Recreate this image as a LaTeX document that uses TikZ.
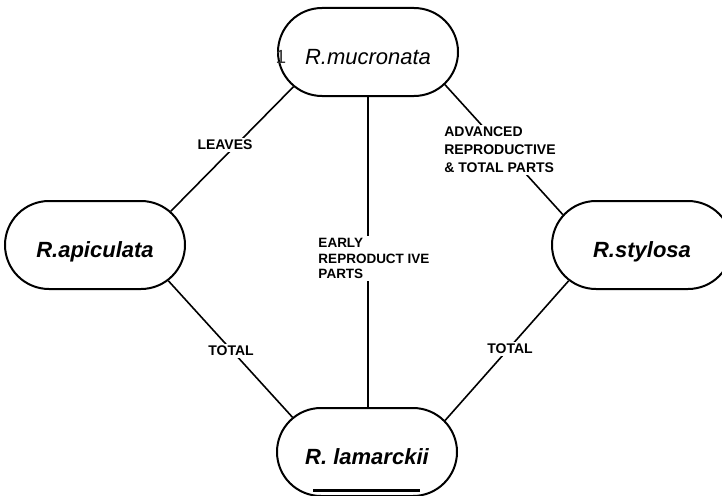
\documentclass[tikz,border=0pt]{standalone}
\usepackage{fontspec}
\setmainfont{Liberation Sans}
\usetikzlibrary{shapes.misc}
\begin{document}
\begin{tikzpicture}[x=1pt,y=-1pt,
  species/.style={rounded rectangle, draw, line width=2pt,
    minimum width=180pt, minimum height=88pt, inner sep=0pt,
    text height=24pt, text depth=0pt,
    font=\fontsize{22}{26}\selectfont\bfseries\itshape},
  link/.style={line width=1.6pt},
  tag/.style={fill=white, inner sep=2pt, align=left,
    font=\fontsize{14}{18}\selectfont\bfseries}]
\useasboundingbox (0,0) rectangle (722,495);

% the four species
\node[species, font=\fontsize{22}{26}\selectfont\itshape] (muc) at (368,52) {R.mucronata};
\node[species] (api) at (95,245) {R.apiculata};
\node[species] (sty) at (642,245) {R.stylosa\hspace{34pt}};
\node[species] (lam) at (367,452) {R. lamarckii\hspace{16pt}};
\node[font=\fontsize{19}{19}\selectfont, text=black!80] (mark) at (281,57) {1};

% relations between species
\draw[link] (muc.205) -- (api.24.3);
\draw[link] (muc.south) -- (muc.south |- lam.north);
\draw[link] (muc.-23.75) -- (sty.159.4);
\draw[link] (api.-26.3) -- (lam.155.3);
\draw[link] (sty.206.3) -- (lam.22.6);

% what each relation is based on
\node[tag] (leaves) at (225,145) {LEAVES};
\node[tag, font=\fontsize{13.5}{15.5}\selectfont\bfseries] (early) at (374,258.5)
  {EARLY\\REPRODUCT IVE\\PARTS};
\node[tag] (adv) at (500,150) {ADVANCED\\REPRODUCTIVE\\\& TOTAL PARTS};
\node[tag] (totl) at (231,351) {TOTAL};
\node[tag] (totr) at (510,349) {TOTAL};

% underline below the lower species name
\draw[line width=3pt] (313,490) -- (420,490);
\end{tikzpicture}
\end{document}
